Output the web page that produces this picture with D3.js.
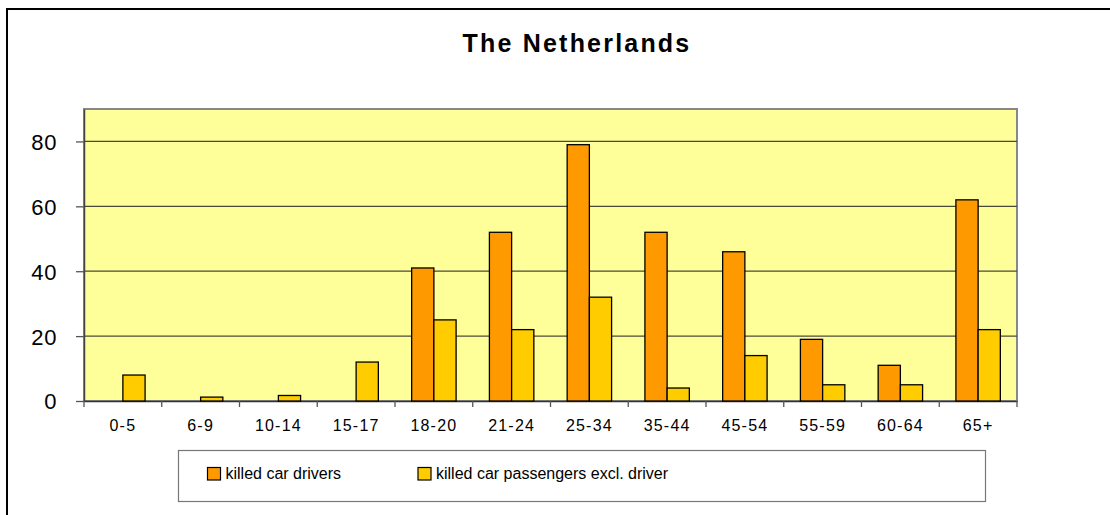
<!DOCTYPE html>
<html>
<head>
<meta charset="utf-8">
<script src="https://cdn.jsdelivr.net/npm/d3@7"></script>
<style>
  body { margin: 0; background: #fff; }
  svg { display: block; font-family: "Liberation Sans", Arial, sans-serif; }
</style>
</head>
<body>
<svg width="1110" height="515"></svg>
<script>
// age groups on the x axis
const ageGroups = ['0-5', '6-9', '10-14', '15-17', '18-20', '21-24', '25-34', '35-44', '45-54', '55-59', '60-64', '65+'];
const seriesNames = ['killed car drivers', 'killed car passengers excl. driver'];
const drivers = [0, 0, 0, 0, 41, 52, 79, 52, 46, 19, 11, 62];
const passengers = [8, 1.2, 1.7, 12, 25, 22, 32, 4, 14, 5, 5, 22];
const yTicks = [0, 20, 40, 60, 80];
const colors = ['#ff9900', '#ffcc00'];

const svg = d3.select('svg');

// outer chart frame (runs past the right and bottom edges)
svg.append('rect')
    .attr('x', 7).attr('y', 9)
    .attr('width', 1300).attr('height', 700)
    .style('fill', 'none')
    .style('stroke', '#000')
    .style('stroke-width', 2);

const plot = {left: 84, right: 1017, top: 109, bottom: 401};

const x = d3.scaleBand()
    .domain(ageGroups)
    .range([plot.left, plot.right]);

// two bars per group, gap width 150%
const xInner = d3.scaleBand()
    .domain(seriesNames)
    .range([0, x.bandwidth()])
    .paddingInner(0)
    .paddingOuter(0.75);

const y = d3.scaleLinear()
    .domain([0, 90])
    .range([plot.bottom, plot.top]);

// plot background
svg.append('rect')
    .attr('x', plot.left).attr('y', plot.top)
    .attr('width', plot.right - plot.left)
    .attr('height', plot.bottom - plot.top)
    .style('fill', '#ffff99')
    .style('stroke', '#888')
    .style('stroke-width', 2);

// gridlines
svg.append('g')
  .selectAll('line')
  .data(yTicks.filter(d => d > 0))
  .enter().append('line')
    .attr('x1', plot.left).attr('x2', plot.right)
    .attr('y1', d => y(d)).attr('y2', d => y(d))
    .style('stroke', '#4a4a3a')
    .style('stroke-width', 1.3);

// y axis
const yAxis = svg.append('g')
    .attr('transform', 'translate(' + plot.left + ',0)')
    .call(d3.axisLeft(y).tickValues(yTicks).tickSize(8).tickSizeOuter(0).tickPadding(0));
yAxis.select('.domain').style('stroke', '#444').style('stroke-width', 1.5);
yAxis.selectAll('.tick line').style('stroke', '#555').style('stroke-width', 1.3);
yAxis.selectAll('.tick text')
    .attr('x', -27)
    .attr('dy', '0.36em')
    .style('font-size', '22px')
    .style('letter-spacing', '0.6px')
    .style('fill', '#000');

// x axis
const xAxis = svg.append('g')
    .attr('transform', 'translate(0,' + plot.bottom + ')')
    .call(d3.axisBottom(x).tickSize(0).tickSizeOuter(0).tickPadding(0));
xAxis.select('.domain').style('stroke', '#333').style('stroke-width', 1.5);
xAxis.selectAll('.tick text')
    .attr('y', 30)
    .attr('dy', 0)
    .style('font-size', '16px')
    .style('letter-spacing', '1.2px')
    .style('fill', '#000');

// x tick marks at band boundaries
const boundaries = ageGroups.map(d => x(d)).concat([plot.right]);
svg.append('g')
  .selectAll('line')
  .data(boundaries)
  .enter().append('line')
    .attr('x1', d => d).attr('x2', d => d)
    .attr('y1', plot.bottom).attr('y2', plot.bottom + 6)
    .style('stroke', '#555')
    .style('stroke-width', 1.3);

// bars
const rows = ageGroups.map((g, i) => ({group: g, values: [drivers[i], passengers[i]]}));
const groups = svg.append('g')
  .selectAll('g')
  .data(rows)
  .enter().append('g')
    .attr('transform', d => 'translate(' + x(d.group) + ',0)');

groups.selectAll('rect')
    .data(d => d.values.map((v, j) => ({name: seriesNames[j], value: v, j: j})).filter(e => e.value > 0))
    .enter().append('rect')
    .attr('x', d => xInner(d.name))
    .attr('y', d => y(d.value))
    .attr('width', xInner.bandwidth())
    .attr('height', d => y(0) - y(d.value))
    .style('fill', d => colors[d.j])
    .style('stroke', '#000')
    .style('stroke-width', 1.3);

// title
svg.append('text')
    .attr('x', 577)
    .attr('y', 52)
    .attr('text-anchor', 'middle')
    .style('font-size', '25px')
    .style('font-weight', 'bold')
    .style('letter-spacing', '2.2px')
    .text('The Netherlands');

// legend
svg.append('rect')
    .attr('x', 178.5).attr('y', 450.5)
    .attr('width', 807).attr('height', 51)
    .style('fill', '#fff')
    .style('stroke', '#777')
    .style('stroke-width', 1.2);

const legendX = [207.5, 418];
const legend = svg.append('g')
  .selectAll('g')
  .data(seriesNames)
  .enter().append('g')
    .attr('transform', (d, i) => 'translate(' + legendX[i] + ',467.5)');

legend.append('rect')
    .attr('width', 13).attr('height', 12.5)
    .style('fill', (d, i) => colors[i])
    .style('stroke', '#000')
    .style('stroke-width', 1.2);

legend.append('text')
    .attr('x', 18)
    .attr('y', 11)
    .style('font-size', '16px')
    .text(d => d);
</script>
</body>
</html>
